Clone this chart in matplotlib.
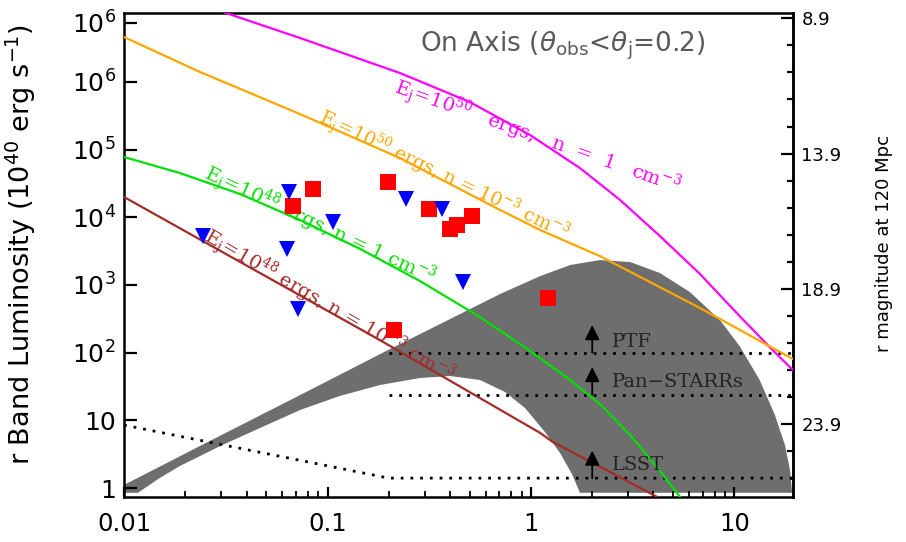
import numpy as np
import matplotlib.pyplot as plt
from matplotlib.ticker import FixedLocator, NullLocator, NullFormatter

# model light curves: time (days) vs r-band luminosity (1e40 erg/s)
t_e50_n1 = [0.030, 0.0733, 0.227, 0.501, 0.989, 1.74, 2.74, 4.30, 6.77, 10.6, 15.4, 19.4]
L_e50_n1 = [1.1e7, 4.44e6, 1.35e6, 5.03e5, 1.64e5, 5.33e4, 1.80e4, 5.28e3, 1.45e3, 347, 109, 55]

t_e50_n3 = [0.01, 0.0236, 0.0733, 0.227, 0.705, 1.11, 2.18, 6.77, 15.4, 19.4]
L_e50_n3 = [4.59e6, 1.40e6, 3.34e5, 7.49e4, 1.28e4, 6.47e3, 2.67e3, 456, 117, 80.5]

t_e48_n1 = [0.01, 0.0188, 0.0372, 0.0733, 0.145, 0.285, 0.561, 0.989, 1.56, 2.18, 3.07, 4.16, 5.40]
L_e48_n1 = [7.75e4, 4.50e4, 2.20e4, 9.09e3, 3.39e3, 1.14e3, 336, 106, 39.4, 17.4, 6.07, 2.04, 0.74]

t_e48_n3 = [0.01, 0.181, 1.11, 1.28, 2.02, 4.16]
L_e48_n3 = [1.99e4, 153, 6.5, 4.78, 2.34, 0.74]

# off-axis envelope (upper and lower edges)
band_t_up = [0.01, 0.0236, 0.0733, 0.203, 0.400, 0.705, 1.11, 1.56, 2.18, 3.07, 4.30,
             6.04, 8.49, 10.6, 13.3, 15.8, 17.7, 18.75, 19.2]
band_L_up = [1.11, 4.17, 23.6, 113, 313, 734, 1.35e3, 1.97e3, 2.33e3, 2.18e3, 1.50e3,
             785, 303, 125, 39.4, 12.0, 4.32, 1.84, 0.85]
band_t_lo = [0.01, 0.0117, 0.0150, 0.0188, 0.0297, 0.0466, 0.0733, 0.115, 0.181, 0.285,
             0.400, 0.561, 0.745, 0.935, 1.17, 1.39, 1.59, 1.74, 19.2]
band_L_lo = [0.85, 0.85, 1.41, 2.11, 4.17, 7.70, 14.2, 22.9, 33.2, 42.2,
             45.1, 39.4, 26.2, 15.2, 6.72, 3.29, 1.61, 0.85, 0.85]

# observed detections and upper limits
t_det = [0.0677, 0.0850, 0.198, 0.316, 0.400, 0.432, 0.513, 0.212, 1.21]
L_det = [1.46e4, 2.61e4, 3.31e4, 1.32e4, 6.7e3, 7.7e3, 1.04e4, 216, 641]
t_lim = [0.0244, 0.0647, 0.106, 0.0632, 0.0716, 0.243, 0.366, 0.463]
L_lim = [5.3e3, 2.36e4, 8.5e3, 3.39e3, 441, 1.86e4, 1.32e4, 1104]

# survey limits
lsst_t = [0.01, 0.2, 20]
lsst_L = [8.5, 1.4, 1.4]
ptf_L = 100
ps_L = 24
survey_t0, survey_t1 = 0.2, 20
arrow_t = 2.0

M0 = 26.25  # r mag at 120 Mpc for 1e40 erg/s

fig, ax = plt.subplots(figsize=(9.06, 5.42), dpi=100)
fig.subplots_adjust(left=0.1369, right=0.8753, bottom=0.083, top=0.976)
ax.set_xscale('log')
ax.set_yscale('log')
ax.set_xlim(0.01, 19.4)
ax.set_ylim(0.736, 1.04e7)

ax.fill(band_t_up + band_t_lo[::-1], band_L_up + band_L_lo[::-1],
        color='#6e6e6e', lw=0, zorder=1)

ax.plot(t_e50_n1, L_e50_n1, color='#ff00ff', lw=1.6, zorder=3)
ax.plot(t_e50_n3, L_e50_n3, color='#ffa500', lw=1.6, zorder=3)
ax.plot(t_e48_n1, L_e48_n1, color='#00e000', lw=1.6, zorder=3)
ax.plot(t_e48_n3, L_e48_n3, color='#a52a2a', lw=1.6, zorder=3)

dots = (0, (1, 2.5))
ax.plot(lsst_t, lsst_L, color='k', lw=2, ls=dots, zorder=2)
ax.plot([survey_t0, survey_t1], [ptf_L, ptf_L], color='k', lw=2, ls=dots, zorder=2)
ax.plot([survey_t0, survey_t1], [ps_L, ps_L], color='k', lw=2, ls=dots, zorder=2)

for base in [ptf_L, ps_L, lsst_L[-1]]:
    ax.annotate('', xy=(arrow_t, base * 2.55), xytext=(arrow_t, base),
                arrowprops=dict(arrowstyle='-|>', color='k', lw=1.3,
                                mutation_scale=22, shrinkA=0, shrinkB=0),
                zorder=4)

serif = 'DejaVu Serif'
ax.text(2.5, 143, 'PTF', family=serif, fontsize=14, color='#222222', va='center')
ax.text(2.5, 36.8, 'Pan\u2212STARRs', family=serif, fontsize=14, color='#222222', va='center')
ax.text(2.5, 2.19, 'LSST', family=serif, fontsize=14, color='#222222', va='center')

ax.plot(t_det, L_det, 's', color='#ff0000', ms=12, mew=0, zorder=5)
ax.plot(t_lim, L_lim, 'v', color='#0000ff', ms=12, mew=0, zorder=5)

# curve labels along the lines
labels = [
    (0.210, 7.07e5, -19.5, 14, '#ff00ff', r'$\mathregular{E_j\!=\!10^{50}}$   ergs,   n  =  1   cm$\mathregular{^{-3}}$'),
    (0.0897, 2.55e5, -25.5, 13.5, '#ffa500', r'$\mathregular{E_j\!=\!10^{50}}$ ergs, n = $\mathregular{10^{-3}}$ cm$\mathregular{^{-3}}$'),
    (0.0244, 3.79e4, -25, 14, '#00e000', r'$\mathregular{E_j\!=\!10^{48}}$ ergs, n = 1 cm$\mathregular{^{-3}}$'),
    (0.0244, 4.6e3, -30, 14, '#a52a2a', r'$\mathregular{E_j\!=\!10^{48}}$ ergs, n = $\mathregular{10^{-3}}$ cm$\mathregular{^{-3}}$'),
]
for x, y, rot, fs, c, s in labels:
    ax.text(x, y, s, color=c, family=serif, fontsize=fs, rotation=rot,
            rotation_mode='anchor', ha='left', va='baseline', zorder=4)

fig.text(563 / 906, 1 - 46 / 542,
         r'On Axis ($\theta_{\rm obs}$<$\theta_{\rm j}$=0.2)',
         ha='center', va='center', fontsize=19, color='#5a5a5a')

# left axis
yt = [1, 10, 1e2, 1e3, 1e4, 1e5, 1e6, 7.5e6]
ax.yaxis.set_major_locator(FixedLocator(yt))
ax.set_yticklabels(['1', '10', r'$10^2$', r'$10^3$', r'$10^4$', r'$10^5$', r'$10^6$', r'$10^6$'])
ax.yaxis.set_minor_locator(NullLocator())
ax.tick_params(axis='y', which='major', direction='in', length=9.5, width=1.6,
               labelsize=18, pad=6, right=False)
ax.tick_params(axis='x', which='major', direction='in', length=7.5, width=1.6,
               labelsize=17.5, pad=11, top=False)
ax.tick_params(axis='x', which='minor', direction='in', length=4, width=1.3, top=False)
ax.set_xticks([0.01, 0.1, 1, 10])
ax.set_xticklabels(['0.01', '0.1', '1', '10'])
for sp in ax.spines.values():
    sp.set_linewidth(1.8)

fig.text(21 / 906, 1 - 245 / 542, r'r Band Luminosity (10$^{40}$ erg s$^{-1}$)',
         rotation=90, ha='center', va='center', fontsize=19.5)

# right axis: apparent magnitude at 120 Mpc
sec = ax.secondary_yaxis('right', functions=(lambda L: M0 - 2.5 * np.log10(L),
                                              lambda m: 10 ** ((M0 - m) / 2.5)))
sec.yaxis.set_major_locator(FixedLocator([8.9, 13.9, 18.9, 23.9]))
sec.yaxis.set_major_formatter(plt.FixedFormatter(['8.9', '13.9', '18.9', '23.9']))
sec.yaxis.set_minor_locator(FixedLocator(np.arange(8.9, 27.0, 1.0)))
sec.yaxis.set_minor_formatter(NullFormatter())
sec.tick_params(which='major', direction='in', length=9, width=1.6, labelsize=13, pad=6)
sec.tick_params(which='minor', direction='in', length=4.5, width=1.6)
sec.spines['right'].set_linewidth(1.8)
fig.text(884 / 906, 1 - 243 / 542, 'r magnitude at 120 Mpc',
         rotation=90, ha='center', va='center', fontsize=13)

fig.savefig('out.png', dpi=100)
